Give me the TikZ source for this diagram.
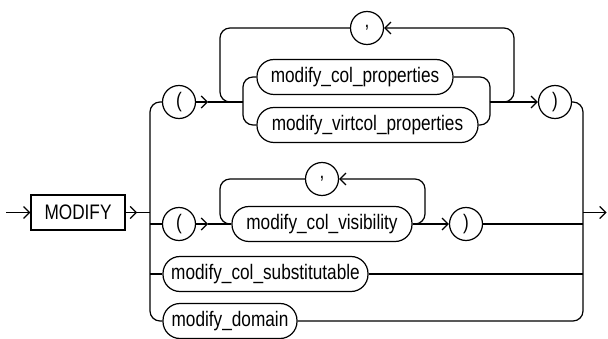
\documentclass[tikz,border=0pt]{standalone}
\usepackage{fontspec}
\setmainfont[FakeStretch=0.82]{Liberation Sans}
\usetikzlibrary{arrows.meta}
\tikzset{
  wire/.style={line width=1.2pt},
  arr/.style={line width=1.2pt, -{Straight Barb[length=6pt,width=12pt,line width=1.2pt]}},
  term/.style={draw, line width=1.2pt, circle, minimum size=33pt, inner sep=0pt, font=\fontsize{21}{24}\selectfont},
  nt/.style={draw, line width=1.2pt, rounded corners=17pt, minimum height=35pt, inner sep=0pt, font=\fontsize{21}{24}\selectfont},
  kw/.style={draw, line width=1.2pt, rectangle, minimum height=35pt, minimum width=94pt, inner sep=0pt, font=\fontsize{21}{24}\selectfont},
  rcorner/.style={rounded corners=10pt}
}
\begin{document}
\begin{tikzpicture}[x=1pt,y=-1pt]
\useasboundingbox (0,0) rectangle (608,339);
% nodes
\node[kw] (modify) at (78,212.5) {MODIFY};
\node[term] (lp1) at (179,102) {(};
\node[term] (c1) at (367,28) {,};
\node[nt, minimum width=196pt] (colprop) at (355,77) {modify\_col\_properties};
\node[nt, minimum width=221pt] (virt) at (367.5,125) {modify\_virtcol\_properties};
\node[term] (rp1) at (555,102) {)};
\node[term] (lp2) at (179,224) {(};
\node[term] (c2) at (322,179) {,};
\node[nt, minimum width=180pt] (vis) at (322,224) {modify\_col\_visibility};
\node[term] (rp2) at (466,224) {)};
\node[nt, minimum width=205pt] (subst) at (265.5,274) {modify\_col\_substitutable};
\node[nt, minimum width=134pt] (dom) at (230,321) {modify\_domain};
% coordinates
\coordinate (start) at (6,212.5);
\coordinate (a0) at (137,212.5);
\coordinate (lbus) at (150,212.5);
\coordinate (l2) at (150,224);
\coordinate (l3) at (150,274);
\coordinate (b1a) at (208,102);
\coordinate (f1) at (243,102);
\coordinate (m1) at (236,102);
\coordinate (j1) at (490,102);
\coordinate (b2a) at (208,224);
\coordinate (r2) at (583,224);
\coordinate (r3) at (583,274);
\coordinate (rbus) at (583,212.5);
\coordinate (exit) at (606.5,212.5);
% entry
\draw[arr] (start) -- (modify.west);
\draw[arr] (modify.east) -- (a0);
\draw[wire] (a0) -- (lbus);
% left bus
\draw[wire, rcorner] (lp1.west) -- (150,102) -- (150,321) -- (dom.west);
\draw[wire] (l2) -- (lp2.west);
\draw[wire] (l3) -- (subst.west);
% branch 1
\draw[arr] (lp1.east) -- (b1a);
\draw[wire] (b1a) -- (f1);
\draw[wire, rcorner] (colprop.west) -| (f1);
\draw[wire, rcorner] (virt.west) -| (f1);
\draw[wire, rcorner] (c1.west) -| (220,102) -- (m1);
\draw[wire, rcorner] (colprop.east) -| (j1);
\draw[wire, rcorner] (virt.east) -| (j1);
\draw[arr] (j1) -- (rp1.west);
\draw[arr, rcorner] (j1) -- (514,102) -- (514,28) -- (c1.east);
% branch 2
\draw[arr] (lp2.east) -- (b2a);
\draw[wire] (b2a) -- (vis.west);
\draw[wire, rcorner] (c2.west) -| (220,224) -- (vis.west);
\draw[arr, rcorner] (vis.east) -- (425,224) -- (425,179) -- (c2.east);
\draw[arr] (vis.east) -- (rp2.west);
\draw[wire] (rp2.east) -- (r2);
% branch 3
\draw[wire] (subst.east) -- (r3);
% right bus
\draw[wire, rcorner] (rp1.east) -- (583,102) -- (583,321) -- (dom.east);
\draw[arr] (rbus) -- (exit);
\end{tikzpicture}
\end{document}
